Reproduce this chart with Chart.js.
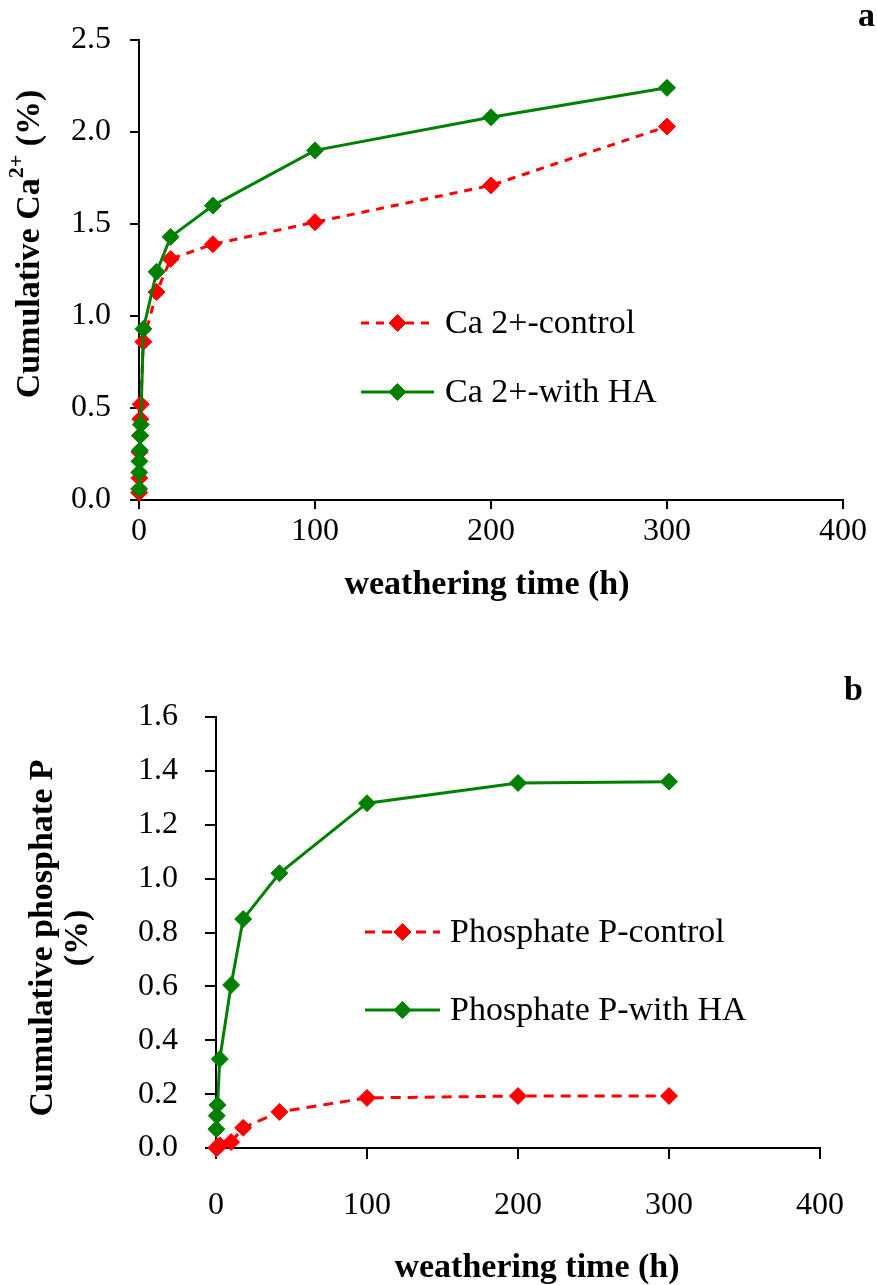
<!DOCTYPE html>
<html lang="en">
<head>
<meta charset="UTF-8">
<title>Cumulative Ca2+ and phosphate P</title>
<script src="https://cdn.jsdelivr.net/npm/chart.js"></script>
<style>
  body { margin: 0; background: #fff; width: 877px; height: 1285px; position: relative; overflow: hidden;
         font-family: "Liberation Serif", "Times New Roman", serif; }
  .wrap { position: absolute; left: 0; width: 877px; }
  .panel { position: absolute; font-weight: bold; font-size: 34px; line-height: 1; }
</style>
</head>
<body>
<div class="wrap" style="top:0;height:630px"><canvas id="chartA"></canvas></div>
<div class="wrap" style="top:625px;height:660px"><canvas id="chartB"></canvas></div>
<div class="panel" style="left:858px;top:-2px">a</div>
<div class="panel" style="left:844px;top:672px">b</div>

<script>
// panel a - cumulative Ca2+
const timeA = [0.08, 0.17, 0.25, 0.5, 0.75, 1, 2.5, 10, 18, 42, 100, 200, 300]
const caControl = [0.04, 0.12, 0.26, 0.35, 0.44, 0.52, 0.86, 1.13, 1.31, 1.39, 1.51, 1.71, 2.03]
const caWithHA = [0.06, 0.15, 0.21, 0.27, 0.35, 0.41, 0.93, 1.24, 1.43, 1.60, 1.90, 2.08, 2.24]

// panel b - cumulative phosphate P
const timeB = [0.25, 0.5, 1, 2.5, 10, 18, 42, 100, 200, 300]
const pControl = [0.0, 0.0, 0.005, 0.01, 0.022, 0.075, 0.134, 0.186, 0.193, 0.193]
const pWithHA = [0.07, 0.12, 0.16, 0.33, 0.605, 0.85, 1.02, 1.28, 1.355, 1.36]

const xTicks = [0, 100, 200, 300, 400]

const RED = '#ff0000'
const GREEN = '#008000'
const FONT = '"Liberation Serif", "Times New Roman", serif'

function toPoints(xs, ys) {
  return xs.map((x, i) => ({ x: x, y: ys[i] }))
}

function series(label, xs, ys, color, dash, order) {
  return {
    label: label,
    data: toPoints(xs, ys),
    borderColor: color,
    backgroundColor: color,
    pointBackgroundColor: color,
    pointBorderColor: color,
    borderWidth: 3,
    borderDash: dash,
    pointStyle: 'rectRot',
    pointRadius: 8.5,
    pointBorderWidth: 1,
    tension: 0,
    clip: false,
    order: order
  }
}

// legend drawn inside the plot area, like the original
const insideLegend = {
  id: 'insideLegend',
  afterDraw(chart, args, opts) {
    const ctx = chart.ctx
    ctx.save()
    chart.data.datasets.forEach((ds, i) => {
      const y = opts.y + i * opts.rowGap
      ctx.strokeStyle = ds.borderColor
      ctx.lineWidth = ds.borderWidth
      ctx.setLineDash(ds.borderDash || [])
      ctx.beginPath()
      ctx.moveTo(opts.x, y)
      ctx.lineTo(opts.x + opts.lineLen, y)
      ctx.stroke()
      ctx.setLineDash([])
      ctx.fillStyle = ds.pointBackgroundColor
      ctx.lineWidth = 1
      Chart.helpers.drawPoint(ctx, { pointStyle: 'rectRot', radius: ds.pointRadius, borderWidth: 1 },
        opts.x + opts.lineLen / 2, y)
      ctx.fillStyle = '#000'
      ctx.font = '34px ' + FONT
      ctx.textBaseline = 'middle'
      ctx.textAlign = 'left'
      ctx.fillText(ds.label, opts.x + opts.lineLen + opts.textGap, y + 1)
    })
    ctx.restore()
  }
}

// axis titles placed freely; parts may be superscript (Ca2+)
const freeTitles = {
  id: 'freeTitles',
  afterDraw(chart, args, opts) {
    if (!opts.items) return
    const ctx = chart.ctx
    const fontOf = p => 'bold ' + (p.sup ? 22 : 34) + 'px ' + FONT
    opts.items.forEach(item => {
      ctx.save()
      ctx.fillStyle = '#000'
      ctx.textBaseline = 'middle'
      ctx.textAlign = 'left'
      let total = 0
      item.parts.forEach(p => { ctx.font = fontOf(p); total += ctx.measureText(p.text).width })
      ctx.translate(item.x, item.y)
      if (item.vertical) ctx.rotate(-Math.PI / 2)
      let pos = -total / 2
      item.parts.forEach(p => {
        ctx.font = fontOf(p)
        ctx.fillText(p.text, pos, p.sup ? -13 : 0)
        pos += ctx.measureText(p.text).width
      })
      ctx.restore()
    })
  }
}

function makeOptions(cfg) {
  return {
    responsive: true,
    maintainAspectRatio: false,
    animation: false,
    layout: { padding: cfg.padding },
    plugins: {
      legend: { display: false },
      tooltip: { enabled: false },
      insideLegend: cfg.legend,
      freeTitles: { items: cfg.titles }
    },
    scales: {
      x: {
        type: 'linear',
        min: 0,
        max: 400,
        afterBuildTicks: s => { s.ticks = xTicks.map(v => ({ value: v })) },
        ticks: { color: '#000', font: { family: FONT, size: 32 }, padding: cfg.xTickPad, maxRotation: 0 },
        grid: { drawOnChartArea: false, color: '#000', lineWidth: 2, tickLength: cfg.tickLen },
        border: { color: '#000', width: 2 },
        afterFit: s => { s.height = cfg.xHeight }
      },
      y: {
        type: 'linear',
        min: 0,
        max: cfg.yMax,
        ticks: { stepSize: cfg.yStep, color: '#000', font: { family: FONT, size: 32 }, padding: cfg.yTickPad,
                 callback: v => v.toFixed(1) },
        grid: { drawOnChartArea: false, color: '#000', lineWidth: 2, tickLength: cfg.tickLen },
        border: { color: '#000', width: 2 },
        afterFit: s => { s.width = cfg.yWidth }
      }
    }
  }
}

new Chart(document.getElementById('chartA'), {
  type: 'line',
  data: {
    datasets: [
      series('Ca 2+-control', timeA, caControl, RED, [8, 7], 1),
      series('Ca 2+-with HA', timeA, caWithHA, GREEN, [], 0)
    ]
  },
  options: makeOptions({
    padding: { left: 14, top: 40, right: 34, bottom: 25 },
    yWidth: 125, xHeight: 105, yMax: 2.5, yStep: 0.5,
    tickLen: 9, xTickPad: 3, yTickPad: 19,
    titles: [
      { x: 30, y: 244, vertical: true, parts: [{ text: 'Cumulative Ca' }, { text: '2+', sup: true }, { text: ' (%)' }] },
      { x: 487, y: 585, parts: [{ text: 'weathering time (h)' }] }
    ],
    legend: { x: 361, y: 323, rowGap: 69, lineLen: 73, textGap: 11 }
  }),
  plugins: [insideLegend, freeTitles]
})

new Chart(document.getElementById('chartB'), {
  type: 'line',
  data: {
    datasets: [
      series('Phosphate P-control', timeB, pControl, RED, [10, 7], 1),
      series('Phosphate P-with HA', timeB, pWithHA, GREEN, [], 0)
    ]
  },
  options: makeOptions({
    padding: { left: 26, top: 92, right: 57, bottom: 1 },
    yWidth: 190, xHeight: 136, yMax: 1.6, yStep: 0.2,
    tickLen: 11, xTickPad: 27, yTickPad: 27,
    titles: [
      { x: 43, y: 313, vertical: true, parts: [{ text: 'Cumulative phosphate P' }] },
      { x: 78, y: 313, vertical: true, parts: [{ text: '(%)' }] },
      { x: 537, y: 643, parts: [{ text: 'weathering time (h)' }] }
    ],
    legend: { x: 365, y: 307, rowGap: 78, lineLen: 75, textGap: 10 }
  }),
  plugins: [insideLegend, freeTitles]
})
</script>
</body>
</html>
